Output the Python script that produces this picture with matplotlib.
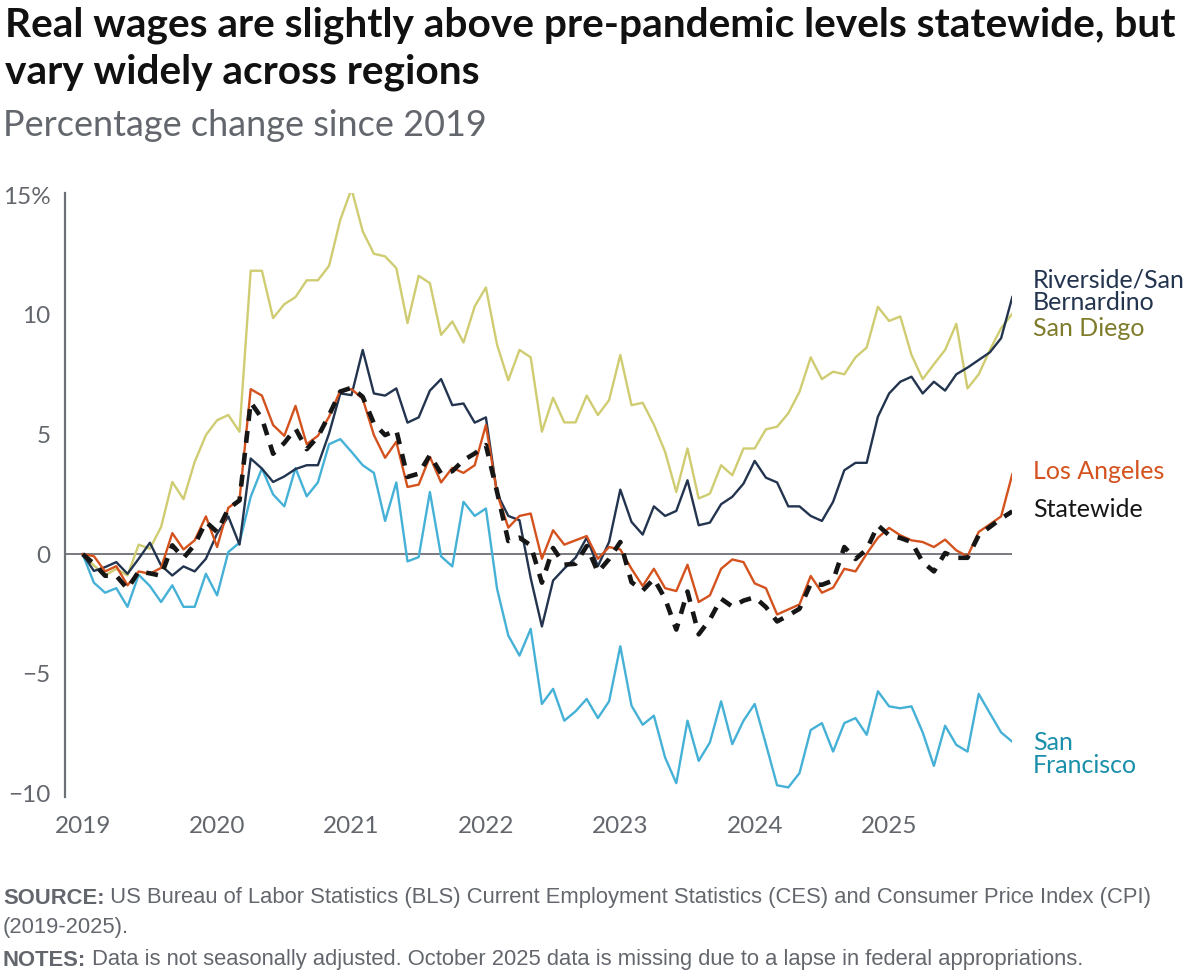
import matplotlib
matplotlib.use("Agg")
import matplotlib.pyplot as plt
import numpy as np

# ---------------- data (percentage change since 2019, monthly Jan 2019 - Dec 2025) -------------
san_diego = [0, -0.47, -0.89, -0.61, -0.89, 0.4, 0.23, 1.14, 3.02, 2.3, 3.86, 4.98,
             5.6, 5.82, 5.12, 11.85, 11.85, 9.87, 10.45, 10.75, 11.45, 11.45, 12.06, 13.98,
             15.27, 13.5, 12.56, 12.45, 11.96, 9.66, 11.64, 11.33, 9.17, 9.73, 8.85, 10.36,
             11.15, 8.75, 7.27, 8.54, 8.23, 5.12, 6.54, 5.51, 5.51, 6.63, 5.82, 6.44,
             8.33, 6.23, 6.33, 5.42, 4.28, 2.6, 4.42, 2.33, 2.53, 3.72, 3.3, 4.42,
             4.42, 5.22, 5.33, 5.89, 6.79, 8.23, 7.32, 7.63, 7.52, 8.23, 8.64, 10.34,
             9.75, 9.94, 8.33, 7.32, 7.94, 8.54, 9.63, 6.93, 7.52, 8.54, 9.45, 10.05]
riverside = [0, -0.7, -0.54, -0.33, -0.82, -0.19, 0.48, -0.47, -0.89, -0.51, -0.72, -0.19,
             0.86, 1.58, 0.4, 4.0, 3.58, 3.02, 3.25, 3.56, 3.72, 3.72, 5.05, 6.72,
             6.65, 8.54, 6.72, 6.63, 6.93, 5.5, 5.72, 6.84, 7.32, 6.23, 6.3, 5.5,
             5.72, 2.53, 1.6, 1.42, -1.0, -3.02, -1.1, -0.6, -0.15, 0.69, -0.5, 0.51,
             2.7, 1.35, 0.82, 2.0, 1.6, 1.81, 3.09, 1.21, 1.32, 2.09, 2.4, 2.95,
             3.9, 3.2, 3.0, 2.0, 2.0, 1.6, 1.39, 2.19, 3.51, 3.82, 3.82, 5.75,
             6.72, 7.21, 7.42, 6.72, 7.21, 6.84, 7.52, 7.8, 8.12, 8.44, 9.03, 10.75]
los_angeles = [0, -0.08, -0.72, -0.5, -1.3, -0.72, -0.82, -0.57, 0.88, 0.2, 0.58, 1.58,
               0.3, 1.94, 2.28, 6.9, 6.63, 5.4, 4.95, 6.2, 4.6, 4.95, 5.75, 6.84,
               6.9, 6.5, 4.98, 4.03, 4.7, 2.81, 2.91, 4.07, 3.0, 3.61, 3.4, 3.72,
               5.4, 2.53, 1.11, 1.6, 1.7, -0.19, 1.0, 0.4, 0.58, 0.76, -0.19, 0.3,
               0.2, -0.61, -1.33, -0.61, -1.42, -1.54, -0.44, -2.0, -1.72, -0.61, -0.22, -0.33,
               -1.22, -1.42, -2.52, -2.31, -2.1, -0.91, -1.61, -1.4, -0.61, -0.72, 0.02, 0.69,
               1.1, 0.79, 0.58, 0.51, 0.3, 0.61, 0.16, -0.09, 0.93, 1.25, 1.58, 3.34]
san_francisco = [0, -1.19, -1.61, -1.42, -2.2, -0.86, -1.33, -2.0, -1.3, -2.2, -2.2, -0.82,
                 -1.72, 0.09, 0.48, 2.4, 3.58, 2.5, 2.0, 3.6, 2.42, 3.0, 4.6, 4.81,
                 4.28, 3.72, 3.4, 1.39, 3.0, -0.3, -0.12, 2.6, -0.09, -0.51, 2.19, 1.6,
                 1.91, -1.45, -3.4, -4.24, -3.12, -6.26, -5.63, -6.96, -6.57, -6.05, -6.85, -6.15,
                 -3.85, -6.33, -7.13, -6.75, -8.5, -9.57, -6.96, -8.64, -7.87, -6.15, -7.94, -6.96,
                 -6.26, -7.94, -9.66, -9.75, -9.15, -7.35, -7.06, -8.25, -7.06, -6.85, -7.55, -5.73,
                 -6.36, -6.44, -6.36, -7.45, -8.85, -7.17, -7.97, -8.25, -5.84, -6.65, -7.45, -7.84]
statewide = [0, -0.4, -0.9, -0.9, -1.45, -0.72, -0.8, -0.9, 0.37, -0.16, 0.4, 1.35,
             0.93, 1.9, 2.25, 6.35, 5.68, 4.2, 4.65, 5.25, 4.39, 4.91, 5.82, 6.8,
             6.96, 6.58, 5.47, 4.98, 5.19, 3.23, 3.37, 4.14, 3.37, 3.47, 3.93, 4.21,
             4.56, 2.6, 0.55, 0.69, 0.37, -1.19, 0.26, -0.44, -0.4, 0.34, -0.75, -0.2,
             0.51, -1.17, -1.52, -1.03, -1.86, -3.15, -1.56, -3.35, -2.73, -1.86, -2.19, -1.94,
             -1.8, -2.21, -2.81, -2.56, -2.28, -1.24, -1.28, -1.1, 0.3, -0.2, 0.2, 1.21,
             0.79, 0.68, 0.51, -0.33, -0.72, 0.05, -0.15, -0.15, 0.79, 1.14, 1.49, 1.79]

year_labels = ["2019", "2020", "2021", "2022", "2023", "2024", "2025"]
ytick_values = [15, 10, 5, 0, -5, -10]
ytick_labels = ["15%", "10", "5", "0", "\u22125", "\u221210"]

# ---------------- styling ----------------
plt.rcParams['font.family'] = ['Lato', 'DejaVu Sans']
GRAY = "#63676d"
C_SD = "#cfcc72"
C_SD_LBL = "#7f7c2c"
C_RIV = "#23344f"
C_LA = "#d4521e"
C_SF = "#45b1d6"
C_SF_LBL = "#1a8fab"

W, H = 1200, 976
fig = plt.figure(figsize=(W / 100, H / 100), dpi=100)
renderer = fig.canvas.get_renderer()


def fit_text(xpx, ypx, s, target_w, fs0, **kw):
    t = fig.text(xpx / W, 1 - ypx / H, s, fontsize=fs0, **kw)
    w = t.get_window_extent(renderer=renderer).width
    t.set_fontsize(fs0 * target_w / w)
    return t


left_px, right_px, top_px, bot_px = 65, 1012.3, 193, 797
ax = fig.add_axes([left_px / W, 1 - bot_px / H, (right_px - left_px) / W, (bot_px - top_px) / H])

x = np.arange(len(statewide))
ax.set_xlim(-1.58, len(statewide) - 1)
ax.set_ylim(-10.15, 15.1)

ax.axhline(0, color="#6d7075", lw=1.3, zorder=1)

ax.plot(x, san_diego, color=C_SD, lw=1.7, zorder=2)
ax.plot(x, san_francisco, color=C_SF, lw=1.7, zorder=2)
ax.plot(x, riverside, color=C_RIV, lw=1.7, zorder=3)
ax.plot(x, los_angeles, color=C_LA, lw=1.7, zorder=3)
ax.plot(x, statewide, color="#161616", lw=3.3, ls=(0, (2.6, 2.2)), zorder=4)

for s in ["top", "right", "bottom"]:
    ax.spines[s].set_visible(False)
ax.spines["left"].set_color("#6d7075")
ax.spines["left"].set_linewidth(1.6)

ax.set_yticks(ytick_values)
ax.set_yticklabels(ytick_labels)
ax.set_xticks(np.arange(len(year_labels)) * 12)
ax.set_xticklabels(year_labels)
ax.tick_params(axis="both", length=0, labelsize=17.5, labelcolor=GRAY)
ax.tick_params(axis="y", pad=10.5)
ax.tick_params(axis="x", pad=14)

# series labels
lx = 84.85
lbl_fs = 18
ax.text(lx, 11.0, "Riverside/San\nBernardino", color=C_RIV, fontsize=lbl_fs, va="center", ha="left",
        linespacing=1.0, clip_on=False)
ax.text(lx, 9.45, "San Diego", color=C_SD_LBL, fontsize=lbl_fs, va="center", ha="left", clip_on=False)
ax.text(lx, 3.46, "Los Angeles", color=C_LA, fontsize=lbl_fs, va="center", ha="left", clip_on=False)
ax.text(lx, 1.86, "Statewide", color="#161616", fontsize=lbl_fs, va="center", ha="left", clip_on=False)
ax.text(lx, -8.36, "San\nFrancisco", color=C_SF_LBL, fontsize=lbl_fs, va="center", ha="left",
        linespacing=1.0, clip_on=False)

# title and subtitle
t1 = fit_text(5, 25, "Real wages are slightly above pre-pandemic levels statewide, but", 1173, 23,
              fontweight="bold", color="#111111", va="center", ha="left")
fig.text(5 / W, 1 - 72 / H, "vary widely across regions", fontsize=t1.get_fontsize(),
         fontweight="bold", color="#111111", va="center", ha="left")
fit_text(3, 125, "Percentage change since 2019", 482, 22, color=GRAY, va="center", ha="left")

# source / notes
src_family = ['Liberation Sans', 'DejaVu Sans']
s_lbl = fig.text(3 / W, 1 - 898 / H, "SOURCE:", fontsize=13, fontweight="bold", color=GRAY, va="center",
                 ha="left", family=src_family)
s_txt = fig.text(0, 1 - 898 / H,
                 " US Bureau of Labor Statistics (BLS) Current Employment Statistics (CES) and Consumer Price Index (CPI)",
                 fontsize=13, color=GRAY, va="center", ha="left", family=src_family)
w_total = (s_lbl.get_window_extent(renderer=renderer).width + s_txt.get_window_extent(renderer=renderer).width)
src_fs = 13 * 1149 / w_total
s_lbl.set_fontsize(src_fs)
s_txt.set_fontsize(src_fs)
s_txt.set_x((3 + s_lbl.get_window_extent(renderer=renderer).width) / W)
fig.text(3 / W, 1 - 927 / H, "(2019-2025).", fontsize=src_fs, color=GRAY, va="center", ha="left", family=src_family)
n_lbl = fig.text(3 / W, 1 - 960 / H, "NOTES:", fontsize=src_fs, fontweight="bold", color=GRAY, va="center",
                 ha="left", family=src_family)
fig.text((3 + n_lbl.get_window_extent(renderer=renderer).width) / W, 1 - 960 / H,
         " Data is not seasonally adjusted. October 2025 data is missing due to a lapse in federal appropriations.",
         fontsize=src_fs, color=GRAY, va="center", ha="left", family=src_family)

fig.savefig("out.png", dpi=100)
